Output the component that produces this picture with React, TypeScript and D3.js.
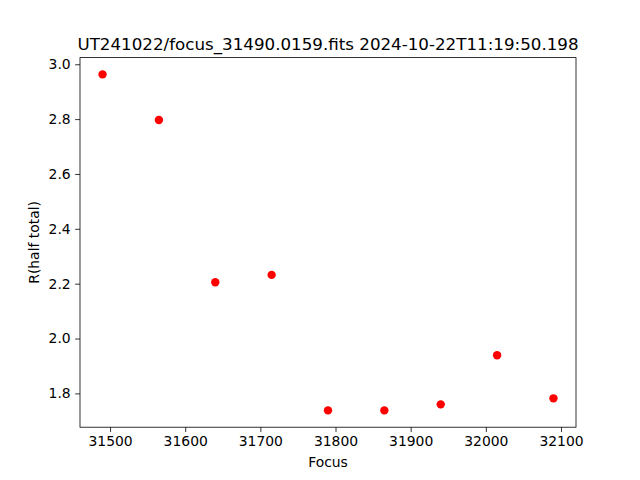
import React, { useEffect, useRef } from 'react';
import * as d3 from 'd3';

const focus = [31490, 31565, 31640, 31715, 31790, 31865, 31940, 32015, 32090];
const rHalf = [2.963, 2.797, 2.205, 2.232, 1.738, 1.738, 1.760, 1.939, 1.782];
const xTicks = [31500, 31600, 31700, 31800, 31900, 32000, 32100];
const yTicks = [1.8, 2.0, 2.2, 2.4, 2.6, 2.8, 3.0];

const App = () => {
  const svgRef = useRef(null);

  useEffect(() => {
    const svg = d3.select(svgRef.current);
    svg.selectAll('*').remove();

    const width = 640;
    const height = 480;
    const margin = { top: 57.6, right: 64, bottom: 52.8, left: 80 };
    const innerWidth = width - margin.left - margin.right;
    const innerHeight = height - margin.top - margin.bottom;
    const font = 'DejaVu Sans, sans-serif';

    // matplotlib style 5% padding around the data
    const [x0, x1] = d3.extent(focus);
    const [y0, y1] = d3.extent(rHalf);
    const px = (x1 - x0) * 0.05;
    const py = (y1 - y0) * 0.05;

    const xScale = d3.scaleLinear().domain([x0 - px, x1 + px]).range([0, innerWidth]);
    const yScale = d3.scaleLinear().domain([y0 - py, y1 + py]).range([innerHeight, 0]);

    svg.append('rect').attr('width', width).attr('height', height).attr('fill', 'white');

    const g = svg.append('g').attr('transform', `translate(${margin.left},${margin.top})`);

    // axes
    const xAxis = d3.axisBottom(xScale).tickValues(xTicks).tickSize(4.86).tickPadding(4.5).tickFormat(d3.format('d'));
    const yAxis = d3.axisLeft(yScale).tickValues(yTicks).tickSize(4.86).tickPadding(4.5).tickFormat(d3.format('.1f'));

    const gx = g.append('g').attr('transform', `translate(0,${innerHeight})`).call(xAxis);
    const gy = g.append('g').call(yAxis);
    [gx, gy].forEach((a) => {
      a.select('.domain').remove();
      a.selectAll('line').attr('stroke', 'black').attr('stroke-width', 0.8);
      a.selectAll('text').attr('font-family', font).attr('font-size', 13.9).attr('fill', 'black');
    });

    // frame
    g.append('rect')
      .attr('width', innerWidth)
      .attr('height', innerHeight)
      .attr('fill', 'none')
      .attr('stroke', 'black')
      .attr('stroke-width', 0.8);

    // points
    g.selectAll('.pt')
      .data(focus)
      .join('circle')
      .attr('class', 'pt')
      .attr('cx', (d) => xScale(d))
      .attr('cy', (d, i) => yScale(rHalf[i]))
      .attr('r', 4.2)
      .attr('fill', 'red');

    // labels
    svg.append('text')
      .attr('x', margin.left + innerWidth / 2)
      .attr('y', 467)
      .attr('text-anchor', 'middle')
      .attr('font-family', font)
      .attr('font-size', 13.9)
      .text('Focus');

    svg.append('text')
      .attr('transform', `translate(39,${margin.top + innerHeight / 2}) rotate(-90)`)
      .attr('text-anchor', 'middle')
      .attr('font-family', font)
      .attr('font-size', 13.9)
      .text('R(half total)');

    svg.append('text')
      .attr('x', margin.left + innerWidth / 2)
      .attr('y', 50)
      .attr('text-anchor', 'middle')
      .attr('font-family', font)
      .attr('font-size', 16.7)
      .text('UT241022/focus_31490.0159.fits 2024-10-22T11:19:50.198');
  }, []);

  return (
    <svg ref={svgRef} width={640} height={480} style={{ position: 'absolute', left: 0, top: 0 }} />
  );
};

export default App;
